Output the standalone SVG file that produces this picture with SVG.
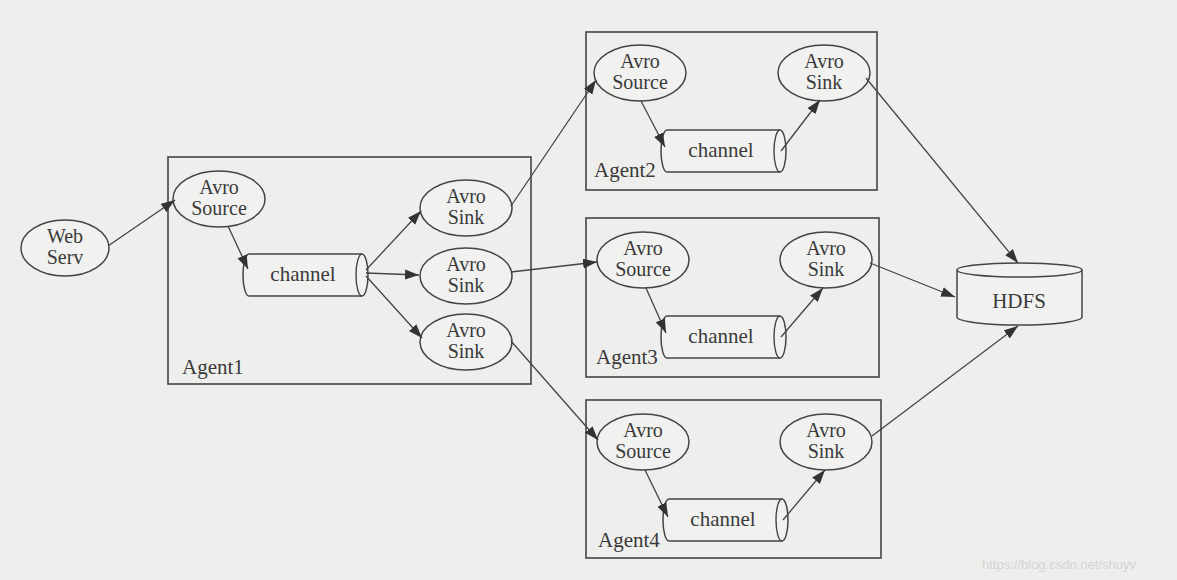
<svg xmlns="http://www.w3.org/2000/svg" width="1177" height="580" viewBox="0 0 1177 580">
<defs>
<marker id="ah" markerWidth="15" markerHeight="11" refX="14" refY="5" orient="auto" markerUnits="userSpaceOnUse">
<path d="M0,0 L14,5 L0,10 z" fill="#333"/>
</marker>
<style>
.bg{fill:#eeeeec}
.box{fill:none;stroke:#444;stroke-width:1.6}
.nd{fill:#f1f1ef;stroke:#444;stroke-width:1.5}
.ln{fill:none;stroke:#444;stroke-width:1.4}
.e{stroke:#444;stroke-width:1.3;fill:none;marker-end:url(#ah)}
text{font-family:"Liberation Serif","Times New Roman",serif;fill:#3a3a3a;font-size:21px}
.t2{font-size:20px}
.c{text-anchor:middle}
.wm{font-family:"Liberation Sans",Arial,sans-serif;font-size:13px;fill:#d4d4d4}
</style>
</defs>
<rect class="bg" x="0" y="0" width="1177" height="580"/>

<g id="webserv">
<ellipse class="nd" cx="65" cy="248" rx="44" ry="28"/>
<text class="c t2" x="65" y="243">Web</text>
<text class="c t2" x="65" y="264">Serv</text>
</g>

<g id="agent1">
<rect class="box" x="168" y="157" width="363" height="227"/>
<text x="182" y="374">Agent1</text>
<g id="a1-source">
<ellipse class="nd" cx="219" cy="199" rx="46" ry="28"/>
<text class="c t2" x="219" y="194">Avro</text>
<text class="c t2" x="219" y="215">Source</text>
</g>
<g id="a1-channel">
<path class="nd" d="M249,254 L362,254 A6,21 0 0 1 362,296 L249,296 A6,21 0 0 1 249,254 Z"/>
<path class="ln" d="M362,254 A6,21 0 0 0 362,296"/>
<text class="c" x="303" y="281">channel</text>
</g>
<g id="a1-sink1">
<ellipse class="nd" cx="466" cy="208" rx="46" ry="28"/>
<text class="c t2" x="466" y="203">Avro</text>
<text class="c t2" x="466" y="224">Sink</text>
</g>
<g id="a1-sink2">
<ellipse class="nd" cx="466" cy="276" rx="46" ry="28"/>
<text class="c t2" x="466" y="271">Avro</text>
<text class="c t2" x="466" y="292">Sink</text>
</g>
<g id="a1-sink3">
<ellipse class="nd" cx="466" cy="342" rx="46" ry="28"/>
<text class="c t2" x="466" y="337">Avro</text>
<text class="c t2" x="466" y="358">Sink</text>
</g>
</g>

<g id="agent2">
<rect class="box" x="586" y="32" width="291" height="158"/>
<text x="594" y="177">Agent2</text>
<g id="a2-source">
<ellipse class="nd" cx="640" cy="73" rx="46" ry="28"/>
<text class="c t2" x="640" y="68">Avro</text>
<text class="c t2" x="640" y="89">Source</text>
</g>
<g id="a2-channel">
<path class="nd" d="M667,130 L780,130 A6,21 0 0 1 780,172 L667,172 A6,21 0 0 1 667,130 Z"/>
<path class="ln" d="M780,130 A6,21 0 0 0 780,172"/>
<text class="c" x="721" y="157">channel</text>
</g>
<g id="a2-sink">
<ellipse class="nd" cx="824" cy="73" rx="46" ry="28"/>
<text class="c t2" x="824" y="68">Avro</text>
<text class="c t2" x="824" y="89">Sink</text>
</g>
</g>

<g id="agent3">
<rect class="box" x="586" y="218" width="293" height="159"/>
<text x="596" y="364">Agent3</text>
<g id="a3-source">
<ellipse class="nd" cx="643" cy="260" rx="46" ry="28"/>
<text class="c t2" x="643" y="255">Avro</text>
<text class="c t2" x="643" y="276">Source</text>
</g>
<g id="a3-channel">
<path class="nd" d="M667,316 L780,316 A6,21 0 0 1 780,358 L667,358 A6,21 0 0 1 667,316 Z"/>
<path class="ln" d="M780,316 A6,21 0 0 0 780,358"/>
<text class="c" x="721" y="343">channel</text>
</g>
<g id="a3-sink">
<ellipse class="nd" cx="826" cy="260" rx="46" ry="28"/>
<text class="c t2" x="826" y="255">Avro</text>
<text class="c t2" x="826" y="276">Sink</text>
</g>
</g>

<g id="agent4">
<rect class="box" x="586" y="400" width="295" height="158"/>
<text x="598" y="547">Agent4</text>
<g id="a4-source">
<ellipse class="nd" cx="643" cy="442" rx="46" ry="28"/>
<text class="c t2" x="643" y="437">Avro</text>
<text class="c t2" x="643" y="458">Source</text>
</g>
<g id="a4-channel">
<path class="nd" d="M669,499 L782,499 A6,21 0 0 1 782,541 L669,541 A6,21 0 0 1 669,499 Z"/>
<path class="ln" d="M782,499 A6,21 0 0 0 782,541"/>
<text class="c" x="723" y="526">channel</text>
</g>
<g id="a4-sink">
<ellipse class="nd" cx="826" cy="442" rx="46" ry="28"/>
<text class="c t2" x="826" y="437">Avro</text>
<text class="c t2" x="826" y="458">Sink</text>
</g>
</g>

<g id="hdfs">
<path class="nd" d="M957,270 A62.5,7 0 0 1 1082,270 L1082,317 A62.5,8 0 0 1 957,317 Z"/>
<path class="ln" d="M957,270 A62.5,7 0 0 0 1082,270"/>
<text class="c" x="1019" y="308">HDFS</text>
</g>

<g id="connectors">
<line class="e" x1="108" y1="246" x2="175" y2="200"/>
<line class="e" x1="228" y1="226" x2="248" y2="269"/>
<line class="e" x1="366" y1="270" x2="421" y2="211"/>
<line class="e" x1="366" y1="273" x2="419" y2="275"/>
<line class="e" x1="366" y1="276" x2="422" y2="338"/>
<line class="e" x1="511" y1="206" x2="596" y2="80"/>
<line class="e" x1="511" y1="272" x2="597" y2="262"/>
<line class="e" x1="511" y1="341" x2="598" y2="440"/>
<line class="e" x1="641" y1="101" x2="665" y2="147"/>
<line class="e" x1="781" y1="151" x2="820" y2="100"/>
<line class="e" x1="646" y1="288" x2="666" y2="333"/>
<line class="e" x1="781" y1="337" x2="823" y2="288"/>
<line class="e" x1="645" y1="470" x2="668" y2="517"/>
<line class="e" x1="783" y1="520" x2="825" y2="470"/>
<line class="e" x1="866" y1="78" x2="1018" y2="263"/>
<line class="e" x1="870" y1="263" x2="955" y2="297"/>
<line class="e" x1="872" y1="436" x2="1018" y2="326"/>
</g>

<text class="wm" x="982" y="569">https://blog.csdn.net/shuyv</text>
</svg>
